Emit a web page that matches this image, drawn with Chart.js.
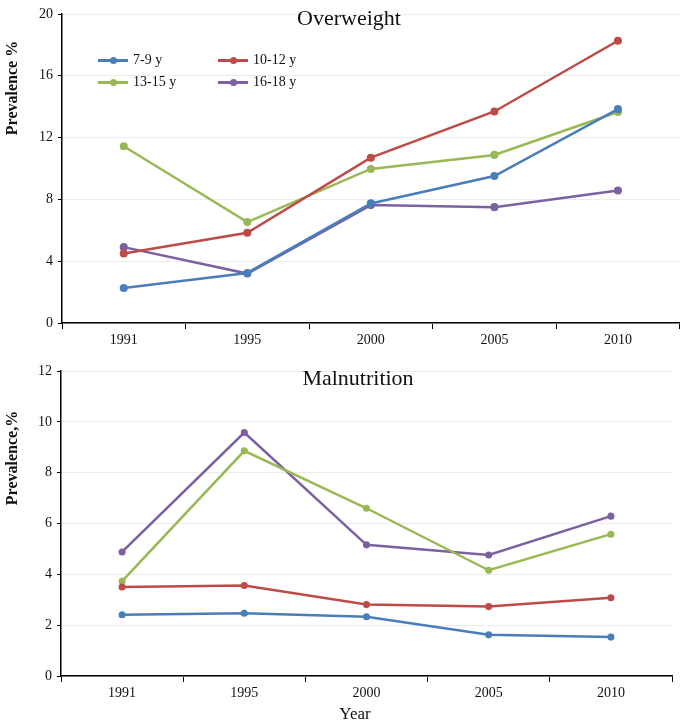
<!DOCTYPE html>
<html>
<head>
<meta charset="utf-8">
<script src="https://cdn.jsdelivr.net/npm/chart.js@4/dist/chart.umd.min.js"></script>
<style>
  html,body{margin:0;padding:0;background:#fff;}
  body{width:685px;height:726px;position:relative;overflow:hidden;font-family:"Liberation Serif","DejaVu Serif",serif;}
  .box{position:absolute;left:0;}
  .ttl{position:absolute;font-size:22px;color:#111;white-space:nowrap;transform:translate(-50%,-50%);}
  .ytl{position:absolute;font-size:16px;font-weight:bold;color:#111;white-space:nowrap;transform:translate(-50%,-50%) rotate(-90deg);}
  .xtl{position:absolute;font-size:17px;color:#111;white-space:nowrap;transform:translate(-50%,-50%);}
  .leg{position:absolute;font-size:14px;color:#111;white-space:nowrap;display:flex;align-items:center;transform:translateY(-50%);}
  .leg .ln{position:relative;width:30px;height:3px;margin-right:5px;}
  .leg .dt{position:absolute;left:12px;top:-2px;width:7px;height:7px;border-radius:50%;}
</style>
</head>
<body>
<div class="box" style="top:0;width:685px;height:355px;"><canvas id="c1" width="685" height="355"></canvas></div>
<div class="box" style="top:355px;width:685px;height:371px;"><canvas id="c2" width="685" height="371"></canvas></div>
<div class="ttl" style="left:349px;top:18px;">Overweight</div>
<div class="ttl" style="left:358px;top:378px;">Malnutrition</div>
<div class="ytl" style="left:12px;top:88px;">Prevalence %</div>
<div class="ytl" style="left:12px;top:458px;">Prevalence,%</div>
<div class="xtl" style="left:355px;top:714px;">Year</div>
<div id="legend"></div>
<script>
const years = ["1991", "1995", "2000", "2005", "2010"];
const groups = ["7-9 y", "10-12 y", "13-15 y", "16-18 y"];
const colors = ["#4a7ebb", "#be4b48", "#98b954", "#7d60a0"];

const overweight_7_9   = [2.27, 3.24, 7.74, 9.51, 13.84];
const overweight_10_12 = [4.50, 5.84, 10.70, 13.69, 18.27];
const overweight_13_15 = [11.44, 6.53, 9.97, 10.88, 13.66];
const overweight_16_18 = [4.91, 3.20, 7.63, 7.50, 8.58];

const malnutrition_7_9   = [2.41, 2.47, 2.33, 1.62, 1.53];
const malnutrition_10_12 = [3.50, 3.56, 2.81, 2.73, 3.08];
const malnutrition_13_15 = [3.73, 8.86, 6.60, 4.16, 5.58];
const malnutrition_16_18 = [4.88, 9.58, 5.16, 4.76, 6.29];

const overweightSeries = [overweight_7_9, overweight_10_12, overweight_13_15, overweight_16_18];
const malnutritionSeries = [malnutrition_7_9, malnutrition_10_12, malnutrition_13_15, malnutrition_16_18];

const tickFont = {family: "'Liberation Serif', serif", size: 14};

function makeDatasets(series, radius){
  return series.map((vals,i)=>({
    label: groups[i],
    data: vals,
    borderColor: colors[i],
    backgroundColor: colors[i],
    borderWidth: 2.5,
    pointRadius: radius,
    pointHoverRadius: radius,
    tension: 0
  }));
}

function makeChart(id, series, yMax, step, pad, yWidth, xHeight, radius){
  return new Chart(document.getElementById(id), {
    type: 'line',
    data: {labels: years, datasets: makeDatasets(series, radius)},
    options: {
      responsive: false,
      animation: false,
      layout: {padding: pad},
      plugins: {legend: {display: false}, tooltip: {enabled: false}, title: {display: false}},
      scales: {
        x: {
          offset: true,
          grid: {offset: true, drawOnChartArea: false, drawTicks: true, tickLength: 6, tickColor: '#000', color: '#000'},
          border: {color: '#000', width: 1.5},
          ticks: {color: '#111', font: tickFont, padding: 3, maxRotation: 0},
          afterFit: s => { s.height = xHeight; }
        },
        y: {
          min: 0, max: yMax,
          grid: {color: '#ececec', tickColor: '#000', tickLength: 4, lineWidth: 1},
          border: {color: '#000', width: 1.5},
          ticks: {stepSize: step, color: '#111', font: tickFont, padding: 5},
          afterFit: s => { s.width = yWidth; }
        }
      }
    }
  });
}

makeChart('c1', overweightSeries, 20, 4, {top: 14, right: 2, left: 0, bottom: 0}, 62, 32, 2.8);
makeChart('c2', malnutritionSeries, 12, 2, {top: 16, right: 13, left: 0, bottom: 0}, 61, 50, 2.3);

// legend (top chart)
const legPos = [[98,60],[218,60],[98,82],[218,82]];
const legEl = document.getElementById('legend');
groups.forEach((g,i)=>{
  const d = document.createElement('div');
  d.className = 'leg';
  d.style.left = legPos[i][0] + 'px';
  d.style.top = legPos[i][1] + 'px';
  d.innerHTML = '<span class="ln" style="background:'+colors[i]+'"><span class="dt" style="background:'+colors[i]+'"></span></span>' + g;
  legEl.appendChild(d);
});
</script>
</body>
</html>
